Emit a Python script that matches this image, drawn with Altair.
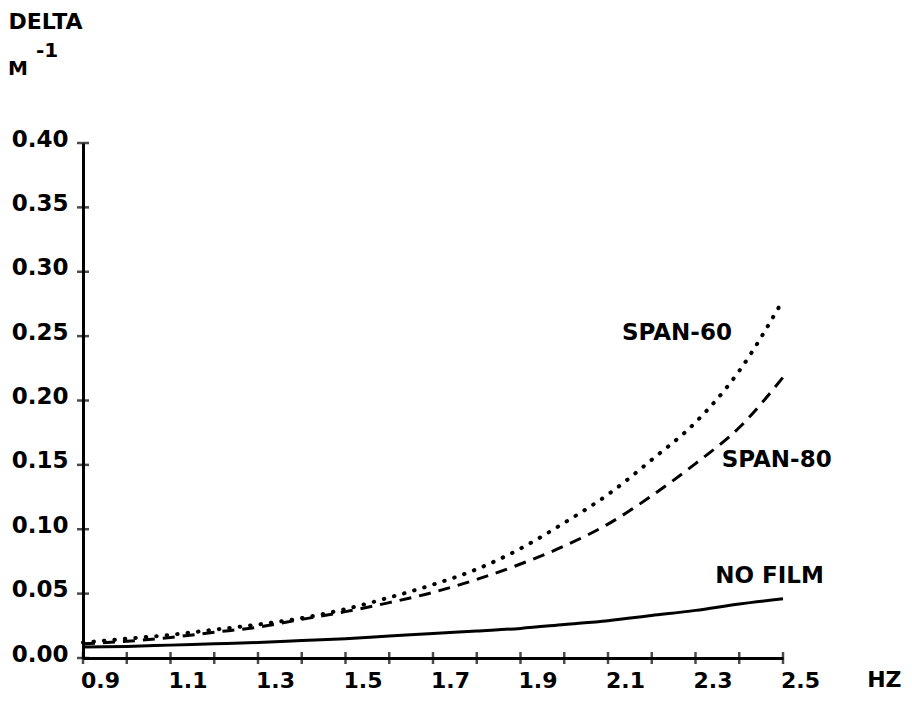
import altair as alt
import pandas as pd

# ---- data ----
freq = [0.9, 1.0, 1.1, 1.2, 1.3, 1.4, 1.5, 1.6, 1.7, 1.8, 1.9, 2.0, 2.1, 2.2, 2.3, 2.4, 2.5]
span60 = [0.012, 0.015, 0.018, 0.022, 0.026, 0.031, 0.038, 0.047, 0.057, 0.069, 0.085,
          0.105, 0.127, 0.154, 0.183, 0.223, 0.278]
span80 = [0.011, 0.013, 0.016, 0.020, 0.024, 0.030, 0.036, 0.043, 0.051, 0.061, 0.073,
          0.087, 0.104, 0.126, 0.151, 0.179, 0.218]
nofilm = [0.0085, 0.009, 0.010, 0.011, 0.012, 0.0135, 0.015, 0.017, 0.019, 0.021, 0.023,
          0.026, 0.029, 0.033, 0.037, 0.042, 0.046]

x_tick_values = [0.9, 1.0, 1.1, 1.2, 1.3, 1.4, 1.5, 1.6, 1.7, 1.8, 1.9, 2.0, 2.1, 2.2, 2.3, 2.4, 2.5]
x_label_values = [0.9, 1.1, 1.3, 1.5, 1.7, 1.9, 2.1, 2.3, 2.5]
y_tick_values = [0.0, 0.05, 0.10, 0.15, 0.20, 0.25, 0.30, 0.35, 0.40]

label_text = ["SPAN-60", "SPAN-80", "NO FILM"]
label_x = [2.132, 2.36, 2.345]
label_y = [0.2524, 0.1538, 0.0637]

FONT = "DejaVu Sans"

xscale = alt.Scale(domain=[0.9, 2.5], nice=False, zero=False)
yscale = alt.Scale(domain=[0.0, 0.40], nice=False, zero=False)

xaxis = alt.Axis(values=x_label_values, format=".1f", grid=False, ticks=False, tickSize=0,
                 domainColor="black", domainWidth=3, labelFont=FONT, labelFontWeight="bold",
                 labelFontSize=22, labelColor="black", labelOffset=17, labelPadding=12,
                 labelFlush=False, labelOverlap=False,
                 title="HZ", titleFont=FONT, titleFontWeight="bold", titleFontSize=22,
                 titleColor="black", titleX=818, titleY=21, titleBaseline="middle",
                 titleAlign="right")
yaxis = alt.Axis(values=y_tick_values, format=".2f", grid=False, ticks=False, tickSize=0,
                 domainColor="black", domainWidth=3, labelFont=FONT, labelFontWeight="bold",
                 labelFontSize=23, labelColor="black", labelPadding=15, labelOffset=-4,
                 labelFlush=False, labelOverlap=False,
                 title="DELTA", titleFont=FONT, titleFontWeight="bold", titleFontSize=22,
                 titleColor="black", titleAngle=0, titleX=-75, titleY=-115,
                 titleAlign="left", titleBaseline="alphabetic")

df60 = pd.DataFrame({"f": freq, "d": span60})
df80 = pd.DataFrame({"f": freq, "d": span80})
dfnf = pd.DataFrame({"f": freq, "d": nofilm})

base_axes = alt.Chart(df60).mark_line(opacity=0).encode(
    x=alt.X("f:Q", scale=xscale, axis=xaxis),
    y=alt.Y("d:Q", scale=yscale, axis=yaxis),
)

l60 = alt.Chart(df60).mark_line(color="black", strokeWidth=4, strokeDash=[0.5, 10],
                                strokeCap="round", interpolate="monotone").encode(
    x=alt.X("f:Q", scale=xscale), y=alt.Y("d:Q", scale=yscale))
l80 = alt.Chart(df80).mark_line(color="black", strokeWidth=3, strokeDash=[12, 8],
                                interpolate="monotone").encode(
    x=alt.X("f:Q", scale=xscale), y=alt.Y("d:Q", scale=yscale))
lnf = alt.Chart(dfnf).mark_line(color="black", strokeWidth=3, interpolate="monotone").encode(
    x=alt.X("f:Q", scale=xscale), y=alt.Y("d:Q", scale=yscale))

xt = alt.Chart(pd.DataFrame({"f": x_tick_values, "d": [0.0] * len(x_tick_values)})).mark_tick(
    orient="vertical", color="black", size=12, thickness=2.5).encode(
    x=alt.X("f:Q", scale=xscale), y=alt.Y("d:Q", scale=yscale))
yt = alt.Chart(pd.DataFrame({"f": [0.9] * len(y_tick_values), "d": y_tick_values})).mark_tick(
    orient="horizontal", color="black", size=12, thickness=2.5).encode(
    x=alt.X("f:Q", scale=xscale), y=alt.Y("d:Q", scale=yscale))

labels = alt.Chart(pd.DataFrame({"t": label_text, "f": label_x, "d": label_y})).mark_text(
    font=FONT, fontWeight="bold", fontSize=23, color="black", align="left",
    baseline="middle").encode(
    x=alt.X("f:Q", scale=xscale), y=alt.Y("d:Q", scale=yscale), text="t:N")

unit_m = alt.Chart(pd.DataFrame({"t": ["M"]})).mark_text(
    font=FONT, fontWeight="bold", fontSize=20, color="black", align="left",
    baseline="alphabetic").encode(x=alt.value(-75), y=alt.value(-68), text="t:N")
unit_exp = alt.Chart(pd.DataFrame({"t": ["-1"]})).mark_text(
    font=FONT, fontWeight="bold", fontSize=20, color="black", align="left",
    baseline="alphabetic").encode(x=alt.value(-47), y=alt.value(-86), text="t:N")

chart = alt.layer(base_axes, lnf, l80, l60, xt, yt, labels, unit_m, unit_exp).properties(
    width=700, height=515,
    background="white",
    autosize=alt.AutoSizeParams(type="none"),
    padding={"left": 75, "top": 135, "right": 121, "bottom": 38},
).configure_view(stroke=None)

chart.save("out.html", embed_options={"renderer": "svg", "actions": False})
